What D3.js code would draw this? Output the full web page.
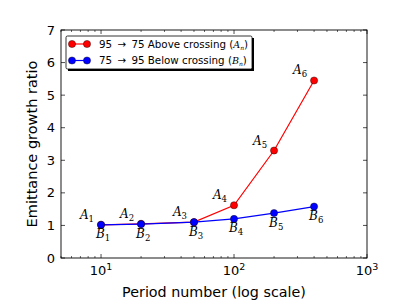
<!DOCTYPE html>
<html>
<head>
<meta charset="utf-8">
<script src="https://cdn.jsdelivr.net/npm/d3@7"></script>
<style>
body { margin: 0; background: #fff; }
text { font-family: "DejaVu Sans", sans-serif; }
.lab { font-family: "DejaVu Serif", serif; font-style: italic; }
</style>
</head>
<body>
<script>
const periods = [10, 20, 50, 100, 200, 400]
const above = [1.02, 1.05, 1.1, 1.62, 3.3, 5.45]
const below = [1.02, 1.04, 1.1, 1.2, 1.38, 1.58]
const yTicks = [0, 1, 2, 3, 4, 5, 6, 7]
const xTicks = [10, 100, 1000]
const seriesNames = ['95 \u2009\u2192\u2009 75 Above crossing', '75 \u2009\u2192\u2009 95 Below crossing']

const margin = {top: 30, right: 40, bottom: 47, left: 61}
const W = 407, H = 305
const width = W - margin.left - margin.right
const height = H - margin.top - margin.bottom

const svg = d3.select('body').append('svg')
  .attr('width', W).attr('height', H)
const g = svg.append('g').attr('transform', `translate(${margin.left},${margin.top})`)

const x = d3.scaleLog().domain([5, 1000]).range([0, width])
const y = d3.scaleLinear().domain([0, 7]).range([height, 0])

// minor ticks
const minor = []
for (let d = 1; d <= 100; d *= 10) {
  for (let k = 2; k <= 9; k++) {
    const v = k * d
    if (v >= 5 && v <= 1000) minor.push(v)
  }
}
minor.forEach(v => {
  g.append('line').attr('x1', x(v)).attr('x2', x(v)).attr('y1', height).attr('y2', height - 2).attr('stroke', '#000').attr('stroke-width', 0.6)
  g.append('line').attr('x1', x(v)).attr('x2', x(v)).attr('y1', 0).attr('y2', 2).attr('stroke', '#000').attr('stroke-width', 0.6)
})
xTicks.forEach(v => {
  g.append('line').attr('x1', x(v)).attr('x2', x(v)).attr('y1', height).attr('y2', height - 4).attr('stroke', '#000').attr('stroke-width', 0.7)
  g.append('line').attr('x1', x(v)).attr('x2', x(v)).attr('y1', 0).attr('y2', 4).attr('stroke', '#000').attr('stroke-width', 0.7)
  const t = g.append('text').attr('x', x(v)).attr('y', height + 17).attr('text-anchor', 'middle').attr('font-size', 13)
  t.append('tspan').text('10')
  t.append('tspan').attr('dy', -5).attr('font-size', 9.5).text(Math.round(Math.log10(v)))
})
yTicks.forEach(v => {
  g.append('line').attr('x1', 0).attr('x2', 4).attr('y1', y(v)).attr('y2', y(v)).attr('stroke', '#000').attr('stroke-width', 0.7)
  g.append('line').attr('x1', width).attr('x2', width - 4).attr('y1', y(v)).attr('y2', y(v)).attr('stroke', '#000').attr('stroke-width', 0.7)
  g.append('text').attr('x', -6).attr('y', y(v) + 4.5).attr('text-anchor', 'end').attr('font-size', 13).text(v)
})

g.append('rect').attr('width', width).attr('height', height).attr('fill', 'none').attr('stroke', '#000').attr('stroke-width', 0.9)

const line = d3.line().x(d => x(d[0])).y(d => y(d[1]))
const dataA = periods.map((p, i) => [p, above[i]])
const dataB = periods.map((p, i) => [p, below[i]])

g.append('path').attr('d', line(dataA)).attr('fill', 'none').attr('stroke', 'red').attr('stroke-width', 1.2)
g.selectAll('.ma').data(dataA).enter().append('circle')
  .attr('cx', d => x(d[0])).attr('cy', d => y(d[1])).attr('r', 3.6)
  .attr('fill', 'red').attr('stroke', '#000').attr('stroke-width', 0.4)
g.append('path').attr('d', line(dataB)).attr('fill', 'none').attr('stroke', 'blue').attr('stroke-width', 1.2)
g.selectAll('.mb').data(dataB).enter().append('circle')
  .attr('cx', d => x(d[0])).attr('cy', d => y(d[1])).attr('r', 3.6)
  .attr('fill', 'blue').attr('stroke', '#000').attr('stroke-width', 0.4)

// point labels
const subLabel = (px, py, letter, n, anchor) => {
  const t = g.append('text').attr('class', 'lab').attr('x', px).attr('y', py).attr('text-anchor', anchor).attr('font-size', 12)
  t.append('tspan').text(letter)
  t.append('tspan').attr('dy', 3).attr('font-size', 8.5).attr('font-style', 'normal').text(n)
}
dataA.forEach((d, i) => subLabel(x(d[0]) - 7, y(d[1]) - 6, 'A', i + 1, 'end'))
dataB.forEach((d, i) => subLabel(x(d[0]) - 5, y(d[1]) + 13.5, 'B', i + 1, 'start'))

// axis titles
svg.append('text').attr('x', margin.left + width / 2).attr('y', H - 8).attr('text-anchor', 'middle').attr('font-size', 14.3).text('Period number (log scale)')
svg.append('text').attr('transform', `translate(${37},${margin.top + height / 2}) rotate(-90)`).attr('text-anchor', 'middle').attr('font-size', 14.5).text('Emittance growth ratio')

// legend
const lg = g.append('g').attr('transform', 'translate(5,6)')
lg.append('rect').attr('x', 2).attr('y', 2).attr('width', 186).attr('height', 33).attr('fill', '#000')
lg.append('rect').attr('width', 186).attr('height', 33).attr('fill', '#fff').attr('stroke', '#000').attr('stroke-width', 0.8).attr('rx', 1.5)
const cols = ['red', 'blue']
const letters = ['A', 'B']
seriesNames.forEach((s, i) => {
  const yy = 8 + i * 16.5
  lg.append('line').attr('x1', 6).attr('x2', 21).attr('y1', yy).attr('y2', yy).attr('stroke', cols[i]).attr('stroke-width', 1.2)
  ;[6, 21].forEach(cx => lg.append('circle').attr('cx', cx).attr('cy', yy).attr('r', 3.6).attr('fill', cols[i]).attr('stroke', '#000').attr('stroke-width', 0.4))
  const t = lg.append('text').attr('x', 33).attr('y', yy + 3.8).attr('font-size', 10.3)
  t.append('tspan').text(s + ' (')
  t.append('tspan').attr('class', 'lab').attr('font-size', 9.5).text(letters[i])
  t.append('tspan').attr('class', 'lab').attr('font-size', 6).attr('dy', 2).text('n')
  t.append('tspan').attr('dy', -2).text(')')
})
</script>
</body>
</html>
